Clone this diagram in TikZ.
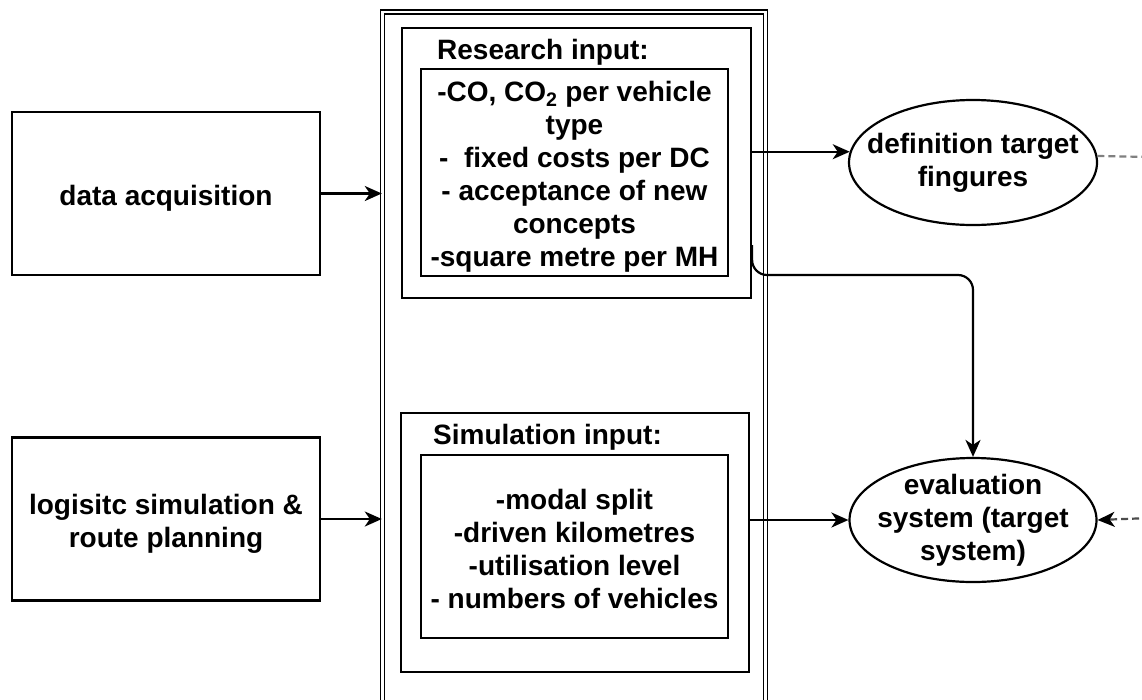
\documentclass[tikz,border=0pt]{standalone}
\usepackage{fontspec}
\setmainfont{Liberation Sans}
\usepackage{tikz}
\usetikzlibrary{shapes.geometric,arrows.meta}
\newcommand{\boxfont}{\bfseries\fontsize{28}{33}\selectfont}

\begin{document}
\begin{tikzpicture}[x=1pt,y=-1pt]
\tikzstyle{box}=[draw,line width=2.2pt,inner sep=0pt,align=center,font=\boxfont]
\tikzstyle{oval}=[draw,ellipse,line width=2.2pt,inner sep=0pt]
\tikzstyle{title}=[inner sep=0pt,anchor=west,font=\boxfont]
\tikzstyle{conn}=[line width=2.2pt,-{Stealth[length=17pt,width=15pt,inset=5pt,color=black]}]
\tikzstyle{hint}=[line width=2.2pt,dash pattern=on 7pt off 4pt]
\useasboundingbox (0,0) rectangle (1142,699);
\clip (0,0) rectangle (1142,699);
% container of the inputs
\node[draw,double,double distance=2.5pt,line width=1.4pt,minimum width=383pt,minimum height=708pt] (inputs) at (574,366) {};
\foreach \name/\point/\lbl in {
	data/{166,193.5}/{data acquisition},
	logi/{166,519}/{logisitc simulation \&\\route planning}}
	\node[box,minimum width=308pt,minimum height=163pt,label={[align=center,font=\boxfont,yshift=-5pt]center:\lbl}] (\name) at (\point) {};
% research input
\node[box,minimum width=349pt,minimum height=270pt] (resout) at (576.5,163) {};
\node[title] (restitle) at (437,52) {Research input:};
\node[box,minimum width=307pt,minimum height=207pt,label={[align=center,font=\boxfont,yshift=-4pt]center:{-CO, CO\textsubscript{2} per vehicle\\type\\- \ fixed costs per DC\\- acceptance of new\\concepts\\-square metre per MH}}] (resin) at (574.5,172.5) {};
% simulation input
\node[box,minimum width=348pt,minimum height=259pt] (simout) at (575,542.5) {};
\node[title] (simtitle) at (433,437) {Simulation input:};
\node[box,minimum width=307pt,minimum height=183pt,label={[align=center,font=\boxfont,yshift=-2pt]center:{-modal split\\-driven kilometres\\-utilisation level\\- numbers of vehicles}}] (simin) at (574.5,546.5) {};
% targets
\node[oval,minimum width=248pt,minimum height=125pt,label={[align=center,font=\boxfont]center:definition target\\fingures}] (def) at (973,162.5) {};
\node[oval,minimum width=247pt,minimum height=124pt,label={[align=center,font=\boxfont]center:evaluation\\system (target\\system)}] (eval) at (973,520) {};
\coordinate (defout) at (1150,157);
\coordinate (evalin) at (1150,518);
\draw[conn] (data) -- (data -| inputs.west);
\draw[conn] (logi) -- (logi -| inputs.west);
\draw[conn] (resout.east |- def.175) -- (def.175);
\draw[conn,rounded corners=15pt] (resout.east |- 0,245) -- (resout.east |- 0,275) -| (eval.north);
\draw[conn] (simout.east |- eval.west) -- (eval.west);
\draw[hint,gray] (def.3) -- (defout);
\draw[conn,hint,gray!60!black] (evalin) -- (eval.east);
\end{tikzpicture}
\end{document}
